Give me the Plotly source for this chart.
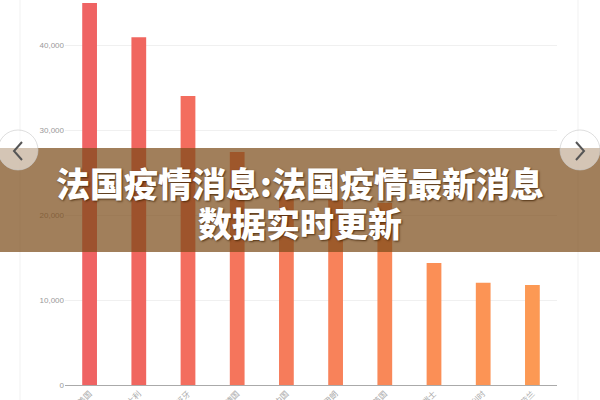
import plotly.graph_objects as go

categories = ["美国", "意大利", "西班牙", "德国", "中国", "伊朗", "英国", "瑞士", "比利时", "荷兰"]
cases = [44950, 40900, 34000, 27400, 22600, 21800, 21400, 14350, 12030, 11760]
y_ticks = [0, 10000, 20000, 30000, 40000]
y_tick_labels = ["0", "10,000", "20,000", "30,000", "40,000"]
title_line1 = "法国疫情消息:法国疫情最新消息"
title_line2 = "数据实时更新"

bar_colors = ["#ef6363", "#f0665f", "#f36d5e", "#f5755c", "#f67c5b",
              "#f8825a", "#f98858", "#fb8f56", "#fc9455", "#fc9954"]

W, H = 600, 400
ML, MR, MT, MB = 65, 43, 0, 15
PW = W - ML - MR
PH = H - MT - MB


def px(x):
    return (x - ML) / PW


def py(y):
    return (H - MB - y) / PH


fig = go.Figure()
fig.add_trace(go.Bar(
    x=categories, y=cases,
    marker=dict(color=bar_colors, line=dict(width=0)),
    hoverinfo="skip",
))

shapes = []
for xv in (20, 578):
    shapes.append(dict(type="line", xref="paper", yref="paper",
                       x0=px(xv), x1=px(xv), y0=py(0), y1=py(H),
                       line=dict(color="#f1f1f1", width=1), layer="below"))
shapes.append(dict(type="rect", xref="paper", yref="paper",
                   x0=px(0), x1=px(W), y0=py(252), y1=py(148),
                   fillcolor="rgba(122,74,24,0.71)", line=dict(width=0), layer="above"))
for cx in (18, 580):
    shapes.append(dict(type="circle", xref="paper", yref="paper",
                       x0=px(cx - 20), x1=px(cx + 20), y0=py(170), y1=py(130),
                       fillcolor="rgba(255,255,255,0.55)",
                       line=dict(color="rgba(200,200,200,0.6)", width=1), layer="above"))
shapes.append(dict(type="path", xref="paper", yref="paper",
                   path=f"M {px(22)} {py(142)} L {px(14)} {py(151)} L {px(22)} {py(160)}",
                   line=dict(color="#555555", width=2), layer="above"))
shapes.append(dict(type="path", xref="paper", yref="paper",
                   path=f"M {px(576)} {py(142)} L {px(584)} {py(151)} L {px(576)} {py(160)}",
                   line=dict(color="#555555", width=2), layer="above"))

title_font = dict(family="Noto Sans CJK SC", size=34, color="white", weight=900,
                  shadow="1px 1px 2px rgba(60,30,0,0.8)")
annotations = [
    dict(text=title_line1, xref="paper", yref="paper", x=px(300), y=py(182),
         showarrow=False, xanchor="center", yanchor="middle", font=title_font),
    dict(text=title_line2, xref="paper", yref="paper", x=px(300), y=py(222),
         showarrow=False, xanchor="center", yanchor="middle", font=title_font),
]

fig.update_layout(
    width=W, height=H,
    margin=dict(l=ML, r=MR, t=MT, b=MB),
    paper_bgcolor="white", plot_bgcolor="white",
    bargap=0.7,
    showlegend=False,
    shapes=shapes,
    annotations=annotations,
    font=dict(family="Noto Sans CJK SC", color="#888888"),
    xaxis=dict(
        tickangle=-45, tickfont=dict(size=8, color="#aaaaaa"),
        showline=True, linecolor="#aaaaaa", linewidth=1,
        ticks="", showgrid=False, automargin=False,
    ),
    yaxis=dict(
        range=[0, PH / 8.5 * 1000],
        tickvals=y_ticks, ticktext=y_tick_labels,
        tickfont=dict(size=8, color="#999999", family="Liberation Sans"),
        showgrid=True, gridcolor="#f0f0f0", gridwidth=1,
        zeroline=False, showline=False, ticks="", automargin=False,
    ),
)

fig.write_html("out.html", config={"displayModeBar": False},
               post_script="document.body.style.margin='0';")
